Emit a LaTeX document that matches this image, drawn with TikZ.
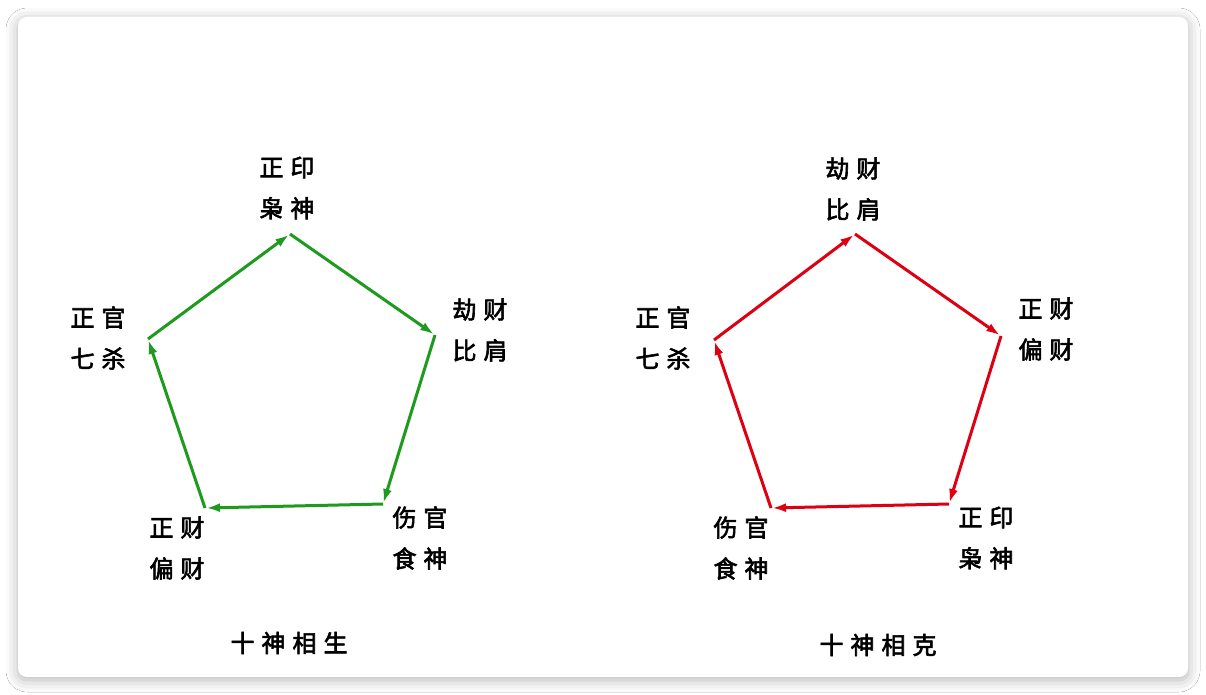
\documentclass[tikz,border=0pt]{standalone}
\usepackage{fontspec}
\setmainfont{Noto Sans CJK SC}[FakeBold=2.5]
\usetikzlibrary{arrows.meta,shadows.blur}
\definecolor{sheng}{RGB}{30,155,30}
\definecolor{ke}{RGB}{222,0,18}
\tikzset{
  card/.style={fill=white,rounded corners=9pt,
    blur shadow={shadow xshift=0pt,shadow yshift=-3pt,shadow blur radius=12pt,shadow opacity=30}},
  lab/.style={align=center,inner sep=0pt,font=\fontsize{24}{41}\selectfont},
  ttl/.style={inner sep=0pt,font=\fontsize{24}{30}\selectfont},
  garrow/.style={draw=sheng,line width=3pt,-{Latex[length=14pt,width=9pt]},shorten >=1pt},
  rarrow/.style={draw=ke,line width=3pt,-{Latex[length=14pt,width=9pt]},shorten >=1pt}
}
\newcommand{\pairsp}[2]{#1\hspace{7pt}#2}
\begin{document}
\begin{tikzpicture}[x=1pt,y=-1pt]
\useasboundingbox (0,0) rectangle (1206,695);
\fill[white] (0,0) rectangle (1206,695);
\path[card] (18,17) rectangle (1188,677);
% left pentagon
\coordinate (lt) at (290,234);
\coordinate (lr) at (435,335);
\coordinate (lbr) at (383,504);
\coordinate (lbl) at (205,508);
\coordinate (ll) at (148,339);
\draw[garrow] (ll) -- (lt);
\draw[garrow] (lt) -- (lr);
\draw[garrow] (lr) -- (lbr);
\draw[garrow] (lbr) -- (lbl);
\draw[garrow] (lbl) -- (ll);
\node[lab] (a1) at (287,188) {\pairsp{正}{印}\\\pairsp{枭}{神}};
\node[lab] (a2) at (480,330) {\pairsp{劫}{财}\\\pairsp{比}{肩}};
\node[lab] (a3) at (420,538) {\pairsp{伤}{官}\\\pairsp{食}{神}};
\node[lab] (a4) at (177,548) {\pairsp{正}{财}\\\pairsp{偏}{财}};
\node[lab] (a5) at (98,338) {\pairsp{正}{官}\\\pairsp{七}{杀}};
\node[ttl] (at) at (289,643) {十\hspace{7pt}神\hspace{7pt}相\hspace{7pt}生};
% right pentagon
\coordinate (rt) at (855,234);
\coordinate (rr) at (1001,336);
\coordinate (rbr) at (949,504);
\coordinate (rbl) at (771,508);
\coordinate (rl) at (714,340);
\draw[rarrow] (rl) -- (rt);
\draw[rarrow] (rt) -- (rr);
\draw[rarrow] (rr) -- (rbr);
\draw[rarrow] (rbr) -- (rbl);
\draw[rarrow] (rbl) -- (rl);
\node[lab] (b1) at (853,189) {\pairsp{劫}{财}\\\pairsp{比}{肩}};
\node[lab] (b2) at (1046,329) {\pairsp{正}{财}\\\pairsp{偏}{财}};
\node[lab] (b3) at (986,538) {\pairsp{正}{印}\\\pairsp{枭}{神}};
\node[lab] (b4) at (741,548) {\pairsp{伤}{官}\\\pairsp{食}{神}};
\node[lab] (b5) at (663,338) {\pairsp{正}{官}\\\pairsp{七}{杀}};
\node[ttl] (bt) at (878,645) {十\hspace{7pt}神\hspace{7pt}相\hspace{7pt}克};
\end{tikzpicture}
\end{document}
